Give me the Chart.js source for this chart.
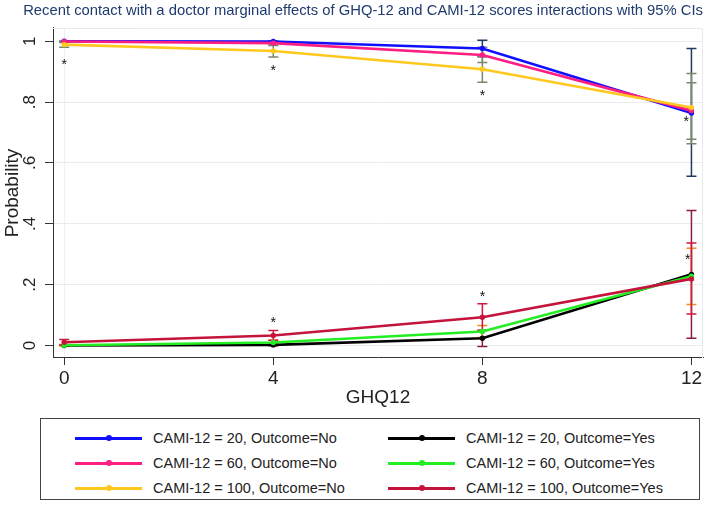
<!DOCTYPE html>
<html lang="en">
<head>
<meta charset="UTF-8">
<title>Recent contact with a doctor - marginal effects</title>
<script src="https://cdn.jsdelivr.net/npm/chart.js"></script>
<style>
    body {
        margin: 0;
        padding: 0;
        background: #fff;
        font-family: Arial, "Liberation Sans", sans-serif;
    }
    .wrap {
        position: relative;
        width: 709px;
        height: 507px;
    }
    .chart-box {
        position: absolute;
        left: 0;
        top: 0;
        width: 709px;
        height: 418px;
    }
    .legend {
        position: absolute;
        left: 40px;
        top: 418px;
        width: 660px;
        height: 82px;
        border: 1px solid #444;
        box-sizing: border-box;
    }
    .legend .item {
        position: absolute;
        height: 20px;
        display: flex;
        align-items: center;
        font-size: 14.5px;
        color: #222;
        white-space: nowrap;
    }
    .legend .swatch {
        position: relative;
        width: 67px;
        height: 3px;
        margin-right: 11px;
    }
    .legend .swatch span {
        position: absolute;
        left: 31px;
        top: -1.5px;
        width: 6px;
        height: 6px;
        border-radius: 50%;
    }
</style>
</head>
<body>
<div class="wrap">
    <div class="chart-box"><canvas id="chart"></canvas></div>
    <div class="legend" id="legend"></div>
</div>

<script>
    // GHQ-12 score values on the x axis
    const ghq = [0, 4, 8, 12];
    const yTicks = [0, 0.2, 0.4, 0.6, 0.8, 1];

    const seriesLabels = [
        'CAMI-12 = 20, Outcome=No',
        'CAMI-12 = 60, Outcome=No',
        'CAMI-12 = 100, Outcome=No',
        'CAMI-12 = 20, Outcome=Yes',
        'CAMI-12 = 60, Outcome=Yes',
        'CAMI-12 = 100, Outcome=Yes'
    ];
    const lineColors = ['#1010ff', '#ff1e82', '#ffc81e', '#000000', '#22ee22', '#c4143c'];
    const ciColors = ['#1f3864', '#78886c', '#78886c', '#8a1c3e', '#f08c28', '#d0183c'];

    // predicted probabilities
    const p20No = [1.000, 0.999, 0.976, 0.764];
    const p60No = [0.999, 0.994, 0.955, 0.772];
    const p100No = [0.989, 0.968, 0.908, 0.782];
    const p20Yes = [0.000, 0.002, 0.024, 0.234];
    const p60Yes = [0.001, 0.010, 0.046, 0.228];
    const p100Yes = [0.011, 0.033, 0.093, 0.219];

    // 95% CI lower / upper bounds
    const lo20No = [0.998, 0.996, 0.949, 0.556];
    const hi20No = [1.000, 1.001, 1.003, 0.976];
    const lo60No = [0.996, 0.986, 0.930, 0.663];
    const hi60No = [1.001, 1.001, 0.980, 0.894];
    const lo100No = [0.980, 0.948, 0.865, 0.678];
    const hi100No = [0.998, 0.988, 0.951, 0.864];
    const lo20Yes = [0.000, -0.001, -0.003, 0.024];
    const hi20Yes = [0.001, 0.005, 0.050, 0.444];
    const lo60Yes = [-0.001, 0.003, 0.026, 0.135];
    const hi60Yes = [0.003, 0.017, 0.066, 0.320];
    const lo100Yes = [0.002, 0.017, 0.049, 0.104];
    const hi100Yes = [0.020, 0.049, 0.137, 0.337];

    // significance stars
    const starX = [0, 4, 8, 11.9, 4, 8, 11.93];
    const starY = [0.932, 0.913, 0.831, 0.743, 0.085, 0.168, 0.289];

    const means = [p20No, p60No, p100No, p20Yes, p60Yes, p100Yes];
    const lows = [lo20No, lo60No, lo100No, lo20Yes, lo60Yes, lo100Yes];
    const highs = [hi20No, hi60No, hi100No, hi20Yes, hi60Yes, hi100Yes];

    const datasets = means.map((vals, k) => ({
        label: seriesLabels[k],
        data: vals.map((v, i) => ({ x: ghq[i], y: v })),
        borderColor: lineColors[k],
        backgroundColor: lineColors[k],
        borderWidth: 2.6,
        pointRadius: 2.7,
        pointBorderWidth: 0,
        tension: 0,
        order: 5 - k // later series on top
    }));

    // CI caps drawn under the lines, stars on top
    const ciPlugin = {
        id: 'ciBars',
        beforeDatasetsDraw(chart) {
            const ctx = chart.ctx;
            const xs = chart.scales.x, ys = chart.scales.y;
            const area = chart.chartArea;
            ctx.save();
            // faint plot region frame
            ctx.strokeStyle = '#e6ebf0';
            ctx.lineWidth = 1;
            ctx.beginPath();
            ctx.moveTo(area.left, area.top + 0.5);
            ctx.lineTo(area.right - 0.5, area.top + 0.5);
            ctx.lineTo(area.right - 0.5, area.bottom);
            ctx.stroke();
            ctx.lineWidth = 1.5;
            lows.forEach((lo, k) => {
                ctx.strokeStyle = ciColors[k];
                lo.forEach((l, i) => {
                    const px = xs.getPixelForValue(ghq[i]);
                    const y1 = ys.getPixelForValue(l);
                    const y2 = ys.getPixelForValue(highs[k][i]);
                    ctx.beginPath();
                    ctx.moveTo(px, y1);
                    ctx.lineTo(px, y2);
                    ctx.moveTo(px - 5, y1);
                    ctx.lineTo(px + 5, y1);
                    ctx.moveTo(px - 5, y2);
                    ctx.lineTo(px + 5, y2);
                    ctx.stroke();
                });
            });
            ctx.restore();
        },
        afterDatasetsDraw(chart) {
            const ctx = chart.ctx;
            const xs = chart.scales.x, ys = chart.scales.y;
            ctx.save();
            ctx.fillStyle = '#111';
            ctx.font = '14px Arial, "Liberation Sans", sans-serif';
            ctx.textAlign = 'center';
            ctx.textBaseline = 'middle';
            starX.forEach((sx, i) => {
                ctx.fillText('*', xs.getPixelForValue(sx), ys.getPixelForValue(starY[i]) + 3);
            });
            ctx.restore();
        }
    };

    new Chart(document.getElementById('chart'), {
        type: 'line',
        data: { datasets: datasets },
        options: {
            responsive: true,
            maintainAspectRatio: false,
            animation: false,
            layout: { padding: { top: 0, right: 6, left: 0, bottom: 0 } },
            plugins: {
                legend: { display: false },
                tooltip: { enabled: false },
                title: {
                    display: true,
                    align: 'end',
                    text: 'Recent contact with a doctor marginal effects of GHQ-12 and CAMI-12 scores interactions with 95% CIs',
                    color: '#1e3a6e',
                    font: { size: 14.8, family: 'Arial, "Liberation Sans", sans-serif', weight: 'normal', lineHeight: 1.2 },
                    padding: { top: 2, bottom: 8.2 }
                }
            },
            scales: {
                x: {
                    type: 'linear',
                    min: -0.214,
                    max: 12.221,
                    afterBuildTicks: (scale) => { scale.ticks = ghq.map(v => ({ value: v })); },
                    afterFit: (scale) => { scale.height = 60; },
                    ticks: {
                        color: '#222',
                        font: { size: 19, family: 'Arial, "Liberation Sans", sans-serif' },
                        padding: 2,
                        maxRotation: 0
                    },
                    grid: {
                        color: (c) => (c.tick && c.tick.value === 0 ? '#eef1f4' : 'transparent'),
                        tickColor: '#333',
                        tickLength: 7,
                        drawTicks: true
                    },
                    border: { color: '#333', width: 1 },
                    title: {
                        display: true,
                        text: 'GHQ12',
                        color: '#222',
                        font: { size: 19, family: 'Arial, "Liberation Sans", sans-serif' },
                        padding: { top: 0, bottom: 9 }
                    }
                },
                y: {
                    min: -0.041,
                    max: 1.0437,
                    afterBuildTicks: (scale) => { scale.ticks = yTicks.map(v => ({ value: v })); },
                    afterFit: (scale) => { scale.width = 53; },
                    ticks: {
                        color: '#222',
                        font: { size: 17, family: 'Arial, "Liberation Sans", sans-serif' },
                        minRotation: 90,
                        maxRotation: 90,
                        crossAlign: 'center',
                        padding: 8,
                        callback: (v) => (v === 0 ? '0' : v === 1 ? '1' : String(+v.toFixed(1)).replace(/^0/, ''))
                    },
                    grid: {
                        color: '#e8ecf0',
                        tickColor: '#333',
                        tickLength: 8
                    },
                    border: { color: '#333', width: 1 },
                    title: {
                        display: true,
                        text: 'Probability',
                        color: '#222',
                        font: { size: 19, family: 'Arial, "Liberation Sans", sans-serif' },
                        padding: { top: 1, bottom: 0 }
                    }
                }
            }
        },
        plugins: [ciPlugin]
    });

    // legend: two columns, three rows
    const legendEl = document.getElementById('legend');
    const colX = [34, 347];
    const rowY = [9, 34, 59];
    seriesLabels.forEach((label, k) => {
        const item = document.createElement('div');
        item.className = 'item';
        item.style.left = colX[Math.floor(k / 3)] + 'px';
        item.style.top = rowY[k % 3] + 'px';
        const sw = document.createElement('div');
        sw.className = 'swatch';
        sw.style.background = lineColors[k];
        const dot = document.createElement('span');
        dot.style.background = lineColors[k];
        sw.appendChild(dot);
        item.appendChild(sw);
        item.appendChild(document.createTextNode(label));
        legendEl.appendChild(item);
    });
</script>
</body>
</html>
